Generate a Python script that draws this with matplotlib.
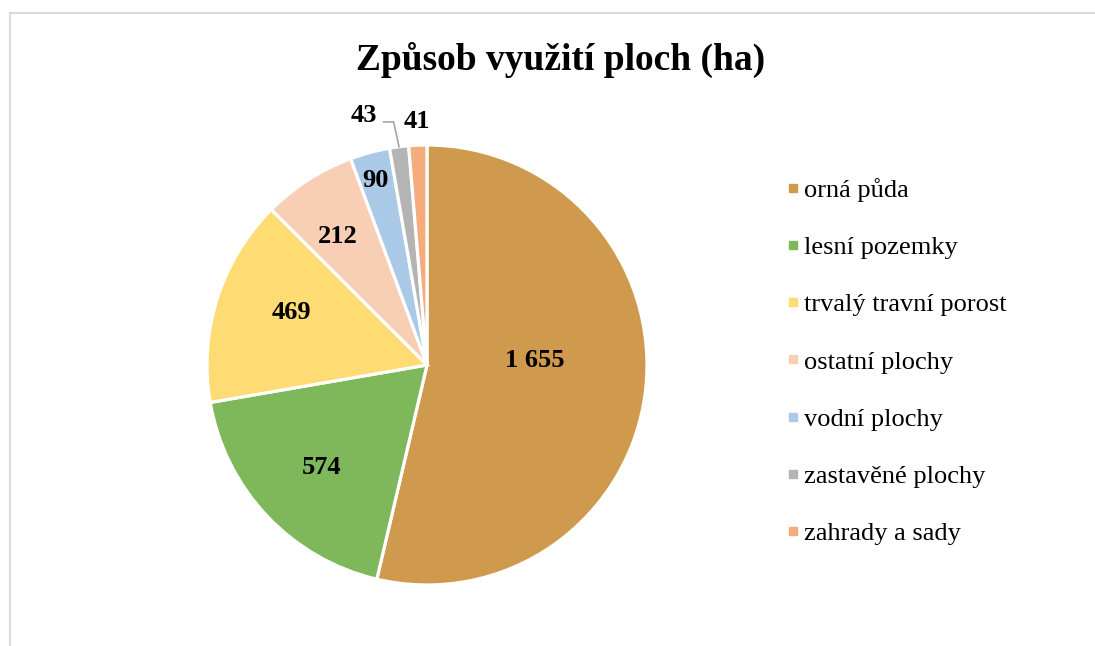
import numpy as np
import matplotlib.pyplot as plt
from matplotlib.lines import Line2D

# data (ha)
categories = ['orná půda', 'lesní pozemky', 'trvalý travní porost', 'ostatní plochy',
              'vodní plochy', 'zastavěné plochy', 'zahrady a sady']
values = [1655, 574, 469, 212, 90, 43, 41]
value_labels = ['1 655', '574', '469', '212', '90', '43', '41']
colors = ['#D09A4E', '#7FB75B', '#FEDB73', '#F8CFB5', '#A9C9E6', '#B4B4B4', '#F4AC7C']

# label radius (fraction of pie radius) and angle nudge, Excel-like placement
label_r = [0.49, 0.67, 0.66, 0.71, 0.87, None, 1.11]
label_da = [9.0, 1.0, -3.5, 2.0, 0.5, 0.0, 0.0]

plt.rcParams['font.family'] = ['Liberation Serif', 'DejaVu Serif']

W, H = 1095, 646
fig = plt.figure(figsize=(W / 100, H / 100), dpi=100)

# light grey frame of the chart area
fig.add_artist(Line2D([10 / W, 10 / W], [0, 1 - 13 / H], color='#D9D9D9', lw=1.5))
fig.add_artist(Line2D([10 / W, 1], [1 - 13 / H, 1 - 13 / H], color='#D9D9D9', lw=1.5))

cx, cy, R = 427, 646 - 365, 220
ax = fig.add_axes([(cx - R) / W, (cy - R) / H, 2 * R / W, 2 * R / H])
wedges, _ = ax.pie(values, colors=colors, startangle=90, counterclock=False,
                   radius=1.0, wedgeprops=dict(edgecolor='white', linewidth=2.3))
ax.set_xlim(-1, 1)
ax.set_ylim(-1, 1)
ax.axis('off')

for w, lab, r, da in zip(wedges, value_labels, label_r, label_da):
    mid = np.deg2rad((w.theta1 + w.theta2) / 2 + da)
    if r is None:
        # small slice: label outside with leader line
        m = np.deg2rad((w.theta1 + w.theta2) / 2)
        ex, ey = np.cos(m), np.sin(m)
        bx, by = ex - 0.025, 1.105
        sx = bx - 0.045
        ax.plot([sx, bx, ex], [by, by, ey], color='#A6A6A6', lw=1.2, clip_on=False)
        ax.text(sx - 0.03, by + 0.03, lab, ha='right', va='center', fontsize=19,
                fontweight='bold', clip_on=False)
    else:
        ax.text(r * np.cos(mid), r * np.sin(mid), lab, ha='center', va='center',
                fontsize=19, fontweight='bold', clip_on=False)

fig.text(561 / W, 1 - 60 / H, 'Způsob využití ploch (ha)', ha='center', va='center',
         fontsize=27, fontweight='bold')

handles = [Line2D([], [], marker='s', linestyle='none', markersize=6,
                  markerfacecolor=c, markeredgecolor=c) for c in colors]
fig.legend(handles, categories, loc='upper left', bbox_to_anchor=(786 / W, 1 - 178 / H),
           frameon=False, fontsize=19, handlelength=0.5, handletextpad=0.2,
           labelspacing=1.28, borderpad=0, borderaxespad=0)

fig.savefig('out.png', dpi=100)
